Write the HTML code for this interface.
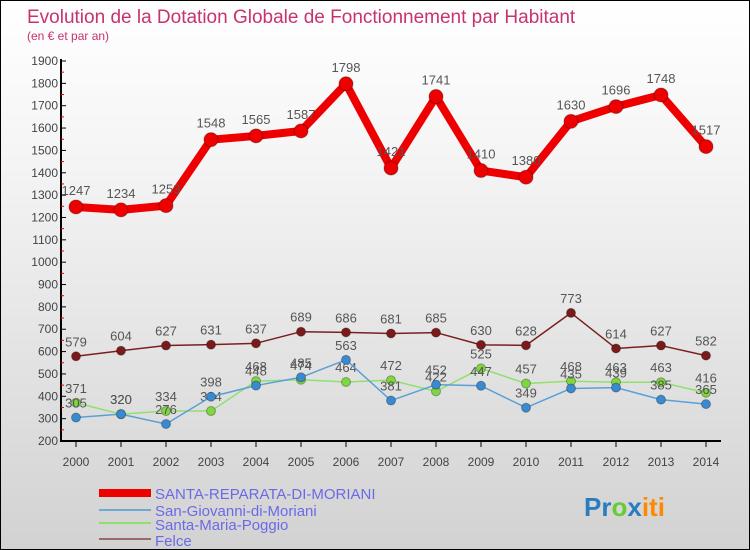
<!DOCTYPE html>
<html><head><meta charset="utf-8"><style>
body{margin:0}
#c{width:748px;height:548px;border:1px solid #000;background:linear-gradient(#fff 0%,#f4f4f4 30%,#d2d2d2 100%);position:relative;font-family:"Liberation Sans",sans-serif;overflow:hidden}
</style></head><body>
<div id="c">
<svg id="s" width="748" height="548" style="position:absolute;left:0;top:0">
<text x="26" y="22" font-size="19" fill="#c8326e">Evolution de la Dotation Globale de Fonctionnement par Habitant</text>
<text x="26" y="39" font-size="12" fill="#c8326e">(en € et par an)</text>
<g id="axes"></g><g id="series"></g>
<g>
<rect x="98" y="488" width="52" height="8" fill="#e00"/>
<text x="154" y="498" font-size="15" fill="#6a6ae8">SANTA-REPARATA-DI-MORIANI</text>
<rect x="98" y="508" width="52" height="2" fill="#6fa8d0"/>
<text x="154" y="515" font-size="15" fill="#6a6ae8">San-Giovanni-di-Moriani</text>
<rect x="98" y="521" width="52" height="2" fill="#90e070"/>
<text x="154" y="529" font-size="15" fill="#6a6ae8">Santa-Maria-Poggio</text>
<rect x="98" y="537" width="52" height="2" fill="#9a6a6a"/>
<text x="154" y="545" font-size="15" fill="#6a6ae8">Felce</text>
</g>
<text x="583" y="515" font-size="26" font-weight="bold"><tspan fill="#2a7cc0">Pr</tspan><tspan fill="#6c3">o</tspan><tspan fill="#2a7cc0">x</tspan><tspan fill="#f80">iti</tspan></text>
</svg>
</div>
<script>
const years=["2000","2001","2002","2003","2004","2005","2006","2007","2008","2009","2010","2011","2012","2013","2014"];
const yTicks=[200,300,400,500,600,700,800,900,1000,1100,1200,1300,1400,1500,1600,1700,1800,1900];
const santaReparata=[1247,1234,1253,1548,1565,1587,1798,1421,1741,1410,1380,1630,1696,1748,1517];
const sanGiovanni=[305,320,276,398,448,485,563,381,452,447,349,435,439,385,365];
const santaMaria=[371,320,334,334,468,474,464,472,422,525,457,468,463,463,416];
const felce=[579,604,627,631,637,689,686,681,685,630,628,773,614,627,582];
const NS="http://www.w3.org/2000/svg";
const X=i=>75+i*45, Y=v=>440-(v-200)*380/1700;
function mk(t,a,p){const e=document.createElementNS(NS,t);for(const k in a)e.setAttribute(k,a[k]);p.appendChild(e);return e;}
const ax=document.getElementById('axes');
const yl=mk('line',{x1:60,y1:58,x2:60,y2:440,stroke:'#000','stroke-width':2},ax);


const xl=mk('line',{x1:59,y1:440,x2:720,y2:440,stroke:'#000','stroke-width':2},ax);


yTicks.forEach(v=>{
  mk('line',{x1:60,y1:Y(v),x2:65,y2:Y(v),stroke:'#000'},ax);
  if(v<1900)mk('line',{x1:60,y1:Y(v+50),x2:63,y2:Y(v+50),stroke:'#e00'},ax);
  const t=mk('text',{x:57,y:Y(v)+4,'font-size':12,'text-anchor':'end',fill:'#444'},ax);
  t.textContent=v;
  
  
});
years.forEach((y,i)=>{
  mk('line',{x1:X(i),y1:440,x2:X(i),y2:446,stroke:'#000'},ax);
  const t=mk('text',{x:X(i),y:465,'font-size':12,'text-anchor':'middle',fill:'#444'},ax);
  t.textContent=y;
  
  
});
const sg=document.getElementById('series');
function draw(d,name,col,w,r,dot,off){
  const g=mk('g',{},sg);
  
  
  const l=mk('polyline',{points:d.map((v,i)=>X(i)+','+Y(v)).join(' '),fill:'none',stroke:col,'stroke-width':w,'stroke-linejoin':'round'},g);
  
  
  d.forEach((v,i)=>{
    const c=mk('circle',{cx:X(i),cy:Y(v),r:r,fill:dot,stroke:'rgba(0,0,0,0.3)'},g);
    
    
    const t=mk('text',{x:X(i),y:Y(v)-off,'font-size':13,'text-anchor':'middle',fill:'#555'},g);
    t.textContent=v;
    
    
  });
}
draw(felce,'felce','#7a2020',1.5,4.5,'#7a1a1a',10);
draw(santaMaria,'santa-maria','#90e070',1.5,4.5,'#7ed640',10);
draw(sanGiovanni,'san-giovanni','#5aa0d8',1.5,4.5,'#3a8ad0',10);
draw(santaReparata,'santa-reparata','#ee0000',8,7,'#ee0000',12);
</script>
</body></html>
